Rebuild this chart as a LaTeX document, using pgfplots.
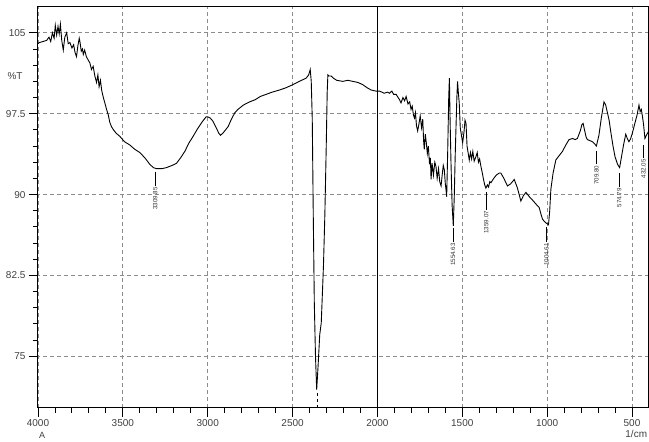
\documentclass[border=0pt]{standalone}
\usepackage{pgfplots}
\pgfplotsset{compat=1.18}
\usepackage{fontspec}
\setmainfont{Liberation Sans}
\pgfplotstableread{
wn T
4000 104.0
3992 104.1
3970 104.2
3949 104.3
3935 104.6
3925 104.2
3915 105.0
3905 104.5
3898 105.7
3890 104.8
3882 105.6
3875 104.9
3868 105.8
3860 104.3
3851 103.4
3842 104.6
3831 105.0
3822 104.0
3812 104.1
3800 103.6
3790 103.9
3782 103.2
3773 102.8
3765 103.8
3757 104.5
3753 104.2
3745 103.3
3738 103.5
3733 103.0
3725 103.4
3715 102.8
3705 102.5
3694 102.2
3685 101.6
3675 101.9
3665 101.0
3655 100.4
3647 101.1
3640 100.0
3632 100.6
3625 99.7
3615 99.0
3606 98.5
3596 97.9
3586 97.4
3577 96.7
3567 96.3
3555 96.0
3540 95.7
3518 95.4
3490 94.9
3459 94.6
3430 94.2
3400 93.9
3370 93.4
3341 92.8
3320 92.5
3302 92.4
3270 92.4
3243 92.5
3210 92.7
3184 92.9
3160 93.4
3135 94.0
3110 94.8
3086 95.4
3060 96.1
3030 96.8
3010 97.2
2998 97.2
2985 97.1
2969 96.8
2950 96.2
2935 95.7
2925 95.5
2910 95.7
2895 96.0
2880 96.3
2860 97.0
2840 97.6
2822 97.9
2790 98.3
2753 98.6
2720 98.8
2690 99.1
2655 99.3
2620 99.5
2577 99.7
2540 99.9
2498 100.2
2460 100.5
2420 100.8
2405 101.1
2396 101.6
2390 100.5
2384 97.0
2378 88.0
2372 80.0
2365 75.0
2358 71.9
2350 74.0
2340 77.0
2331 78.1
2318 83.4
2310 88.0
2302 94.2
2296 99.5
2292 101.1
2285 101.0
2273 101.0
2260 100.8
2240 100.6
2204 100.5
2175 100.6
2145 100.5
2115 100.4
2087 100.2
2060 99.9
2037 99.7
2010 99.6
1988 99.6
1960 99.4
1940 99.5
1929 99.4
1915 99.6
1905 99.3
1890 99.3
1878 99.0
1870 98.8
1861 98.5
1850 99.0
1840 98.7
1831 99.1
1820 98.4
1810 98.6
1802 97.9
1795 98.2
1788 97.4
1782 97.1
1776 97.6
1770 96.4
1763 95.9
1756 96.5
1748 97.3
1740 96.2
1733 97.0
1728 95.0
1724 94.2
1718 95.6
1712 94.8
1706 93.8
1700 94.5
1693 92.8
1688 93.4
1684 91.4
1678 92.9
1670 91.8
1662 93.0
1655 92.6
1648 91.5
1640 92.4
1633 91.2
1625 90.8
1618 91.9
1612 92.7
1606 92.3
1600 91.0
1595 90.3
1592 89.8
1586 94.0
1580 99.0
1576 100.8
1572 97.0
1567 93.2
1560 89.0
1553 87.1
1547 90.0
1542 93.5
1537 96.3
1532 99.0
1528 100.5
1523 99.4
1518 98.5
1512 96.2
1505 95.5
1498 94.8
1490 95.8
1484 96.9
1478 96.6
1472 94.5
1465 93.8
1459 93.2
1452 93.9
1445 93.3
1438 94.0
1430 93.1
1420 93.5
1412 93.9
1405 93.0
1398 93.3
1390 92.6
1382 92.0
1375 91.4
1368 90.9
1361 90.6
1352 90.9
1345 90.7
1338 91.2
1331 91.1
1315 91.5
1300 91.8
1282 92.0
1273 92.0
1255 91.5
1234 90.8
1215 91.0
1194 91.4
1175 90.6
1155 89.4
1140 89.9
1125 90.2
1105 89.8
1087 89.5
1065 89.1
1047 88.8
1035 88.1
1027 87.7
1010 87.4
1000 87.3
992 87.2
985 88.5
978 90.5
965 92.0
949 93.2
930 93.6
910 94.0
890 94.6
871 95.1
850 95.2
835 95.1
822 95.2
805 95.9
795 96.5
788 96.6
780 96.0
770 95.3
763 95.1
748 95.0
733 94.9
720 94.7
710 94.5
695 95.5
680 97.2
665 98.6
655 98.3
645 97.6
635 96.9
625 95.8
612 94.5
600 93.5
585 92.8
573 92.5
562 93.5
550 94.6
537 95.6
528 95.2
518 94.9
508 95.2
498 95.7
485 96.5
470 97.4
459 98.3
452 97.7
445 97.9
439 97.3
432 96.5
424 95.2
415 95.5
405 95.8
400 95.9
}\spectrum
\begin{document}
\begin{tikzpicture}
\begin{axis}[
  scale only axis,
  width=611pt, height=401pt,
  x dir=reverse,
  xmin=400, xmax=4000,
  ymin=70.2, ymax=107.4,
  xtick={500,1000,1500,2000,2500,3000,3500,4000},
  xticklabels={500,1000,1500,2000,2500,3000,3500,4000},
  ytick={75,82.5,90,97.5,105},
  yticklabels={75,82.5,90,97.5,105},
  minor x tick num=4,
  minor y tick num=4,
  tick align=outside,
  xtick pos=bottom, ytick pos=left,
  major tick length=9pt, minor tick length=5pt,
  tick style={black, line width=0.9pt},
  axis line style={black, line width=1pt},
  /pgf/number format/assume math mode=true,
  ticklabel style={font=\fontsize{10}{12}\selectfont, text=black!75},
  xticklabel style={yshift=1pt},
  xmajorgrids, ymajorgrids,
  major grid style={gray!90, dash pattern=on 4pt off 3pt, line width=0.8pt},
  clip=false,
]
\addplot[black, line width=0.9pt] coordinates {(2000,70.2) (2000,107.4)};
\addplot[black, line width=0.9pt] table[x=wn, y=T] {\spectrum};
\addplot[black, line width=0.6pt, dashed] coordinates {(2357,71.6) (2357,70.2)};
% peak labels
\begin{scope}[every node/.style={font=\fontsize{6.2}{7}\selectfont, text=black!80, rotate=90, anchor=east, inner sep=1pt}]
\draw[black, line width=0.8pt] (axis cs:3309.85,92.1) -- (axis cs:3309.85,90.8) node {3309.85};
\draw[black, line width=0.8pt] (axis cs:1554.63,86.9) -- (axis cs:1554.63,85.6) node {1554.63};
\draw[black, line width=0.8pt] (axis cs:1359.07,90.2) -- (axis cs:1359.07,88.6) node {1359.07};
\draw[black, line width=0.8pt] (axis cs:1004.61,87.0) -- (axis cs:1004.61,85.6) node {1004.61};
\draw[black, line width=0.8pt] (axis cs:709.80,94.0) -- (axis cs:709.80,92.8) node {709.80};
\draw[black, line width=0.8pt] (axis cs:574.79,92.0) -- (axis cs:574.79,90.7) node {574.79};
\draw[black, line width=0.8pt] (axis cs:432.05,94.6) -- (axis cs:432.05,93.4) node {432.05};
\end{scope}
\node[font=\fontsize{10}{12}\selectfont, text=black!75] at (axis cs:4135,101.0) {\%T};
\node[font=\fontsize{9}{11}\selectfont, text=black!75] at (axis cs:3976,67.7) {A};
\node[font=\fontsize{10}{12}\selectfont, text=black!75, anchor=east, inner sep=0pt] at (axis cs:410,67.8) {1/cm};
\end{axis}
\pgfresetboundingbox
\path (current axis.south west) ++(-38pt,-34pt) rectangle ++(649pt,442pt);
\end{tikzpicture}
\end{document}
